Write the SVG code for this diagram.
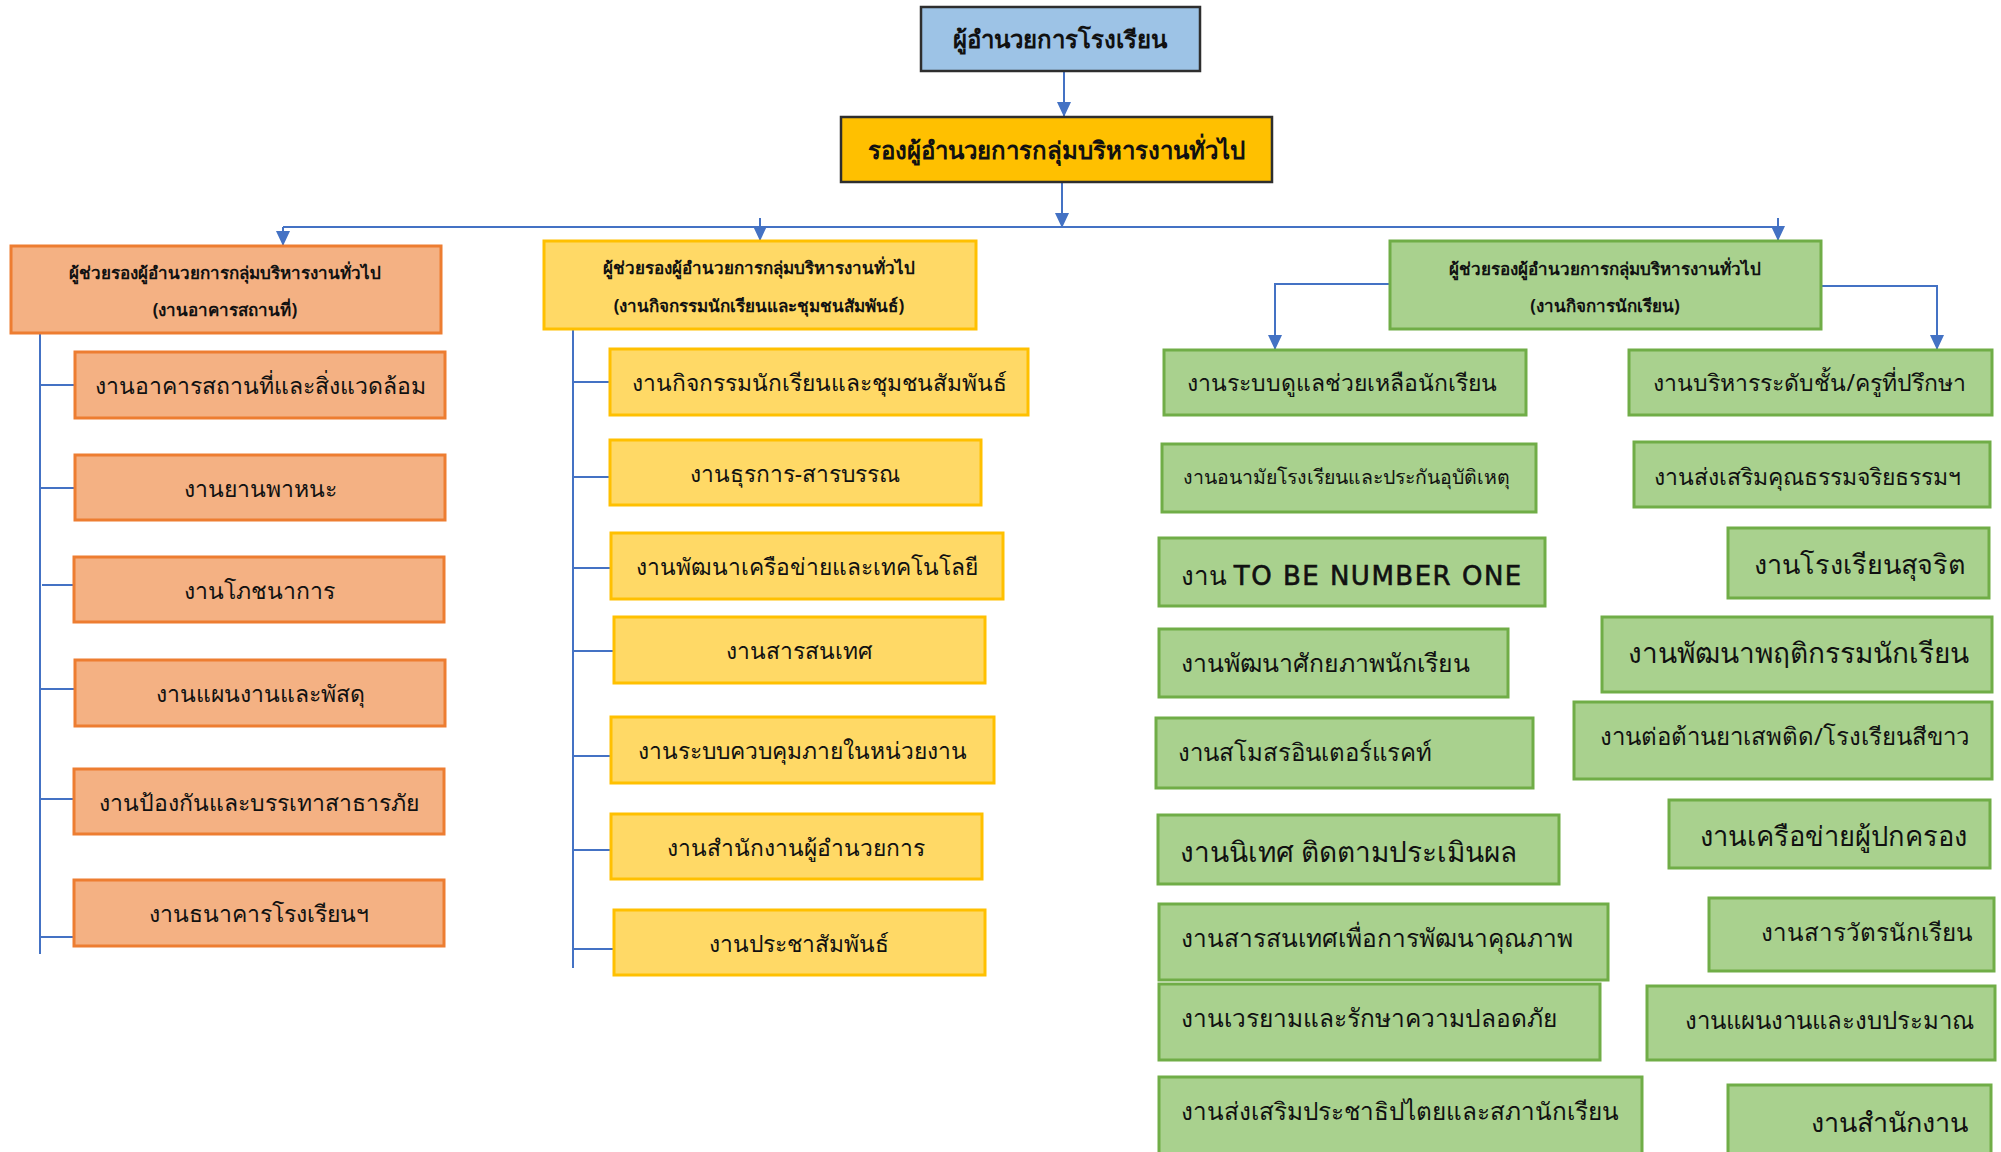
<svg xmlns="http://www.w3.org/2000/svg" width="2001" height="1152" viewBox="0 0 2001 1152">
<defs>
<marker id="arr" viewBox="0 0 15 14" refX="15" refY="7" markerWidth="15" markerHeight="14" markerUnits="userSpaceOnUse" orient="auto">
<path d="M0,0 L15,7 L0,14 z" fill="#4472C4"/>
</marker>
<style>
.t{font-family:"Noto Sans","DejaVu Sans",sans-serif;fill:#111;}
.hd{font-weight:bold;}
.top{fill:#9DC3E6;stroke:#2E2E2E;stroke-width:2.5;}
.dep{fill:#FFC000;stroke:#2E2E2E;stroke-width:2.5;}
.or{fill:#F4B183;stroke:#ED7D31;stroke-width:3;}
.ye{fill:#FFD966;stroke:#FFC000;stroke-width:3;}
.gr{fill:#A9D18E;stroke:#70AD47;stroke-width:3;}
.c{fill:none;stroke:#4472C4;stroke-width:2;}
.oc{font-size:23px;}
.yc{font-size:22.8px;}
</style>
</defs>
<rect width="2001" height="1152" fill="#FFFFFF"/>

<g id="connectors">
<path class="c" d="M1064,71 V117" marker-end="url(#arr)"/>
<path class="c" d="M1062,182 V228" marker-end="url(#arr)"/>
<path class="c" d="M283,227 H1778"/>
<path class="c" d="M283,227 V246" marker-end="url(#arr)"/>
<path class="c" d="M760,218 V241" marker-end="url(#arr)"/>
<path class="c" d="M1778,218 V241" marker-end="url(#arr)"/>
<path class="c" d="M1390,284 H1275 V350" marker-end="url(#arr)"/>
<path class="c" d="M1821,286 H1937 V350" marker-end="url(#arr)"/>
<path class="c" d="M40,332 V954 M40,385 H75 M40,488 H75 M42,585 H75 M40,689 H75 M40,799 H74 M40,937 H74"/>
<path class="c" d="M573,329 V968 M573,382 H610 M573,477 H609 M573,568 H611 M573,651 H613 M573,756 H610 M573,850 H611 M573,949 H614"/>
</g>

<g id="n-director"><rect class="top" x="921" y="7" width="279" height="64"/>
<text class="t hd" x="1060" y="48" font-size="24" text-anchor="middle">ผู้อำนวยการโรงเรียน</text></g>
<g id="n-deputy"><rect class="dep" x="841" y="117" width="431" height="65"/>
<text class="t hd" x="1056" y="159" font-size="24" text-anchor="middle">รองผู้อำนวยการกลุ่มบริหารงานทั่วไป</text></g>

<g id="n-asst-building"><rect class="or" x="11" y="246" width="430" height="87"/>
<text class="t hd" x="225" y="279" font-size="17" text-anchor="middle">ผู้ช่วยรองผู้อำนวยการกลุ่มบริหารงานทั่วไป</text>
<text class="t hd" x="225" y="316" font-size="17" text-anchor="middle">(งานอาคารสถานที่)</text></g>
<g id="n-asst-activity"><rect class="ye" x="544" y="241" width="432" height="88"/>
<text class="t hd" x="759" y="274" font-size="17" text-anchor="middle">ผู้ช่วยรองผู้อำนวยการกลุ่มบริหารงานทั่วไป</text>
<text class="t hd" x="759" y="312" font-size="17" text-anchor="middle">(งานกิจกรรมนักเรียนและชุมชนสัมพันธ์)</text></g>
<g id="n-asst-student"><rect class="gr" x="1390" y="241" width="431" height="88"/>
<text class="t hd" x="1605" y="275" font-size="17" text-anchor="middle">ผู้ช่วยรองผู้อำนวยการกลุ่มบริหารงานทั่วไป</text>
<text class="t hd" x="1605" y="312" font-size="17" text-anchor="middle">(งานกิจการนักเรียน)</text></g>

<g id="o1"><rect class="or" x="75" y="352" width="370" height="66"/><text class="t oc" x="260" y="394" text-anchor="middle">งานอาคารสถานที่และสิ่งแวดล้อม</text></g>
<g id="o2"><rect class="or" x="75" y="455" width="370" height="65"/><text class="t oc" x="260" y="497" text-anchor="middle">งานยานพาหนะ</text></g>
<g id="o3"><rect class="or" x="74" y="557" width="370" height="65"/><text class="t oc" x="259" y="599" text-anchor="middle">งานโภชนาการ</text></g>
<g id="o4"><rect class="or" x="75" y="660" width="370" height="66"/><text class="t oc" x="260" y="702" text-anchor="middle">งานแผนงานและพัสดุ</text></g>
<g id="o5"><rect class="or" x="74" y="769" width="370" height="65"/><text class="t oc" x="259" y="811" text-anchor="middle">งานป้องกันและบรรเทาสาธารภัย</text></g>
<g id="o6"><rect class="or" x="74" y="880" width="370" height="66"/><text class="t oc" x="259" y="922" text-anchor="middle">งานธนาคารโรงเรียนฯ</text></g>

<g id="y1"><rect class="ye" x="610" y="349" width="418" height="66"/><text class="t yc" x="819" y="391" text-anchor="middle">งานกิจกรรมนักเรียนและชุมชนสัมพันธ์</text></g>
<g id="y2"><rect class="ye" x="610" y="440" width="371" height="65"/><text class="t yc" x="795" y="482" text-anchor="middle">งานธุรการ-สารบรรณ</text></g>
<g id="y3"><rect class="ye" x="611" y="533" width="392" height="66"/><text class="t yc" x="807" y="575" text-anchor="middle">งานพัฒนาเครือข่ายและเทคโนโลยี</text></g>
<g id="y4"><rect class="ye" x="614" y="617" width="371" height="66"/><text class="t yc" x="799" y="659" text-anchor="middle">งานสารสนเทศ</text></g>
<g id="y5"><rect class="ye" x="611" y="717" width="383" height="66"/><text class="t yc" x="802" y="759" text-anchor="middle">งานระบบควบคุมภายในหน่วยงาน</text></g>
<g id="y6"><rect class="ye" x="611" y="814" width="371" height="65"/><text class="t yc" x="796" y="856" text-anchor="middle">งานสำนักงานผู้อำนวยการ</text></g>
<g id="y7"><rect class="ye" x="614" y="910" width="371" height="65"/><text class="t yc" x="799" y="952" text-anchor="middle">งานประชาสัมพันธ์</text></g>

<g id="gl1"><rect class="gr" x="1164" y="350" width="362" height="65"/><text class="t" x="1187" y="391" font-size="23">งานระบบดูแลช่วยเหลือนักเรียน</text></g>
<g id="gl2"><rect class="gr" x="1162" y="444" width="374" height="68"/><text class="t" x="1183" y="484" font-size="19.5">งานอนามัยโรงเรียนและประกันอุบัติเหตุ</text></g>
<g id="gl3"><rect class="gr" x="1159" y="538" width="386" height="68"/><text class="t" x="1181" y="585" font-size="26">งาน <tspan font-family="'DejaVu Sans',sans-serif" letter-spacing="1.5" stroke="#111" stroke-width="0.6">TO BE NUMBER ONE</tspan></text></g>
<g id="gl4"><rect class="gr" x="1159" y="629" width="349" height="68"/><text class="t" x="1181" y="672" font-size="24.8">งานพัฒนาศักยภาพนักเรียน</text></g>
<g id="gl5"><rect class="gr" x="1156" y="718" width="377" height="70"/><text class="t" x="1178" y="761" font-size="24">งานสโมสรอินเตอร์แรคท์</text></g>
<g id="gl6"><rect class="gr" x="1158" y="815" width="401" height="69"/><text class="t" x="1180" y="862" font-size="28">งานนิเทศ ติดตามประเมินผล</text></g>
<g id="gl7"><rect class="gr" x="1159" y="904" width="449" height="76"/><text class="t" x="1181" y="947" font-size="24.5">งานสารสนเทศเพื่อการพัฒนาคุณภาพ</text></g>
<g id="gl8"><rect class="gr" x="1159" y="984" width="441" height="76"/><text class="t" x="1181" y="1027" font-size="24.5">งานเวรยามและรักษาความปลอดภัย</text></g>
<g id="gl9"><rect class="gr" x="1159" y="1077" width="483" height="80"/><text class="t" x="1181" y="1120" font-size="24.3">งานส่งเสริมประชาธิปไตยและสภานักเรียน</text></g>

<g id="gr1"><rect class="gr" x="1629" y="350" width="363" height="65"/><text class="t" x="1966" y="391" font-size="23" text-anchor="end">งานบริหารระดับชั้น/ครูที่ปรึกษา</text></g>
<g id="gr2"><rect class="gr" x="1634" y="442" width="356" height="65"/><text class="t" x="1961" y="485" font-size="23" text-anchor="end">งานส่งเสริมคุณธรรมจริยธรรมฯ</text></g>
<g id="gr3"><rect class="gr" x="1728" y="528" width="261" height="70"/><text class="t" x="1966" y="574" font-size="27" text-anchor="end">งานโรงเรียนสุจริต</text></g>
<g id="gr4"><rect class="gr" x="1602" y="617" width="390" height="75"/><text class="t" x="1969" y="663" font-size="28" text-anchor="end">งานพัฒนาพฤติกรรมนักเรียน</text></g>
<g id="gr5"><rect class="gr" x="1574" y="702" width="418" height="77"/><text class="t" x="1969" y="745" font-size="24" text-anchor="end">งานต่อต้านยาเสพติด/โรงเรียนสีขาว</text></g>
<g id="gr6"><rect class="gr" x="1669" y="800" width="321" height="68"/><text class="t" x="1967" y="846" font-size="27.3" text-anchor="end">งานเครือข่ายผู้ปกครอง</text></g>
<g id="gr7"><rect class="gr" x="1709" y="898" width="285" height="73"/><text class="t" x="1973" y="941" font-size="24.2" text-anchor="end">งานสารวัตรนักเรียน</text></g>
<g id="gr8"><rect class="gr" x="1647" y="986" width="348" height="74"/><text class="t" x="1974" y="1029" font-size="24" text-anchor="end">งานแผนงานและงบประมาณ</text></g>
<g id="gr9"><rect class="gr" x="1728" y="1085" width="263" height="72"/><text class="t" x="1968" y="1132" font-size="27" text-anchor="end">งานสำนักงาน</text></g>
</svg>
